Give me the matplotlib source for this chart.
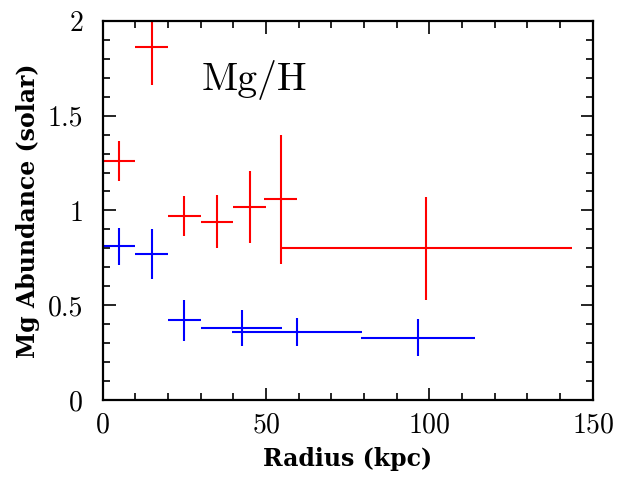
import numpy as np
import matplotlib
matplotlib.use("Agg")
from matplotlib import pyplot as plt
from matplotlib.ticker import MultipleLocator

plt.rcParams['font.family'] = 'cmr10'
plt.rcParams['axes.formatter.use_mathtext'] = True
plt.rcParams['mathtext.fontset'] = 'cm'

# red series (Mg/H, first set)
r_x = [5, 15, 25, 35, 45, 54.5, 99]
r_xerr = [5, 5, 5, 5, 5, 5, 44.5]
r_y = [1.26, 1.86, 0.97, 0.94, 1.02, 1.06, 0.80]
r_yerr = [0.105, 0.2, 0.105, 0.14, 0.19, 0.34, 0.27]

# blue series (second set)
b_x = [5, 15, 25, 42.5, 59.5, 96.5]
b_xerr = [5, 5, 5, 12.5, 20, 17.5]
b_y = [0.81, 0.77, 0.42, 0.38, 0.36, 0.33]
b_yerr = [0.10, 0.13, 0.11, 0.093, 0.075, 0.10]

fig = plt.figure(figsize=(6.26, 4.78), dpi=100)
ax = fig.add_axes([0.164, 0.163, 0.783, 0.7935])

ax.errorbar(r_x, r_y, xerr=r_xerr, yerr=r_yerr, fmt='none',
            ecolor='#ff0000', elinewidth=1.5, capsize=0)
ax.errorbar(b_x, b_y, xerr=b_xerr, yerr=b_yerr, fmt='none',
            ecolor='#0000ff', elinewidth=1.5, capsize=0)

ax.set_xlim(0, 150)
ax.set_ylim(0, 2)
ax.xaxis.set_major_locator(MultipleLocator(50))
ax.xaxis.set_minor_locator(MultipleLocator(10))
ax.yaxis.set_major_locator(MultipleLocator(0.5))
ax.yaxis.set_minor_locator(MultipleLocator(0.1))
ax.set_yticks([0, 0.5, 1, 1.5, 2])
ax.set_yticklabels(['0', '0.5', '1', '1.5', '2'])

ax.tick_params(which='both', direction='in', top=True, right=True,
               width=1.2, labelsize=20)
ax.xaxis.set_tick_params(pad=9)
ax.yaxis.set_tick_params(pad=14)
ax.tick_params(which='major', length=9)
ax.tick_params(which='minor', length=5)
for s in ax.spines.values():
    s.set_linewidth(1.6)

ax.text(46.5, 1.69, 'Mg/H', fontsize=28.5, ha='center', va='center')

# slab-serif, semi-bold look for the axis titles
ax.set_xlabel('Radius (kpc)', fontsize=17, family='DejaVu Serif',
              fontweight='semibold')
ax.set_ylabel('Mg Abundance (solar)', fontsize=17, family='DejaVu Serif',
              fontweight='semibold')
ax.xaxis.set_label_coords(0.5, -0.155)
ax.yaxis.set_label_coords(-0.152, 0.5)
ax.xaxis.label.set_va('center')
ax.yaxis.label.set_va('center')

fig.savefig('out.png', dpi=100)
